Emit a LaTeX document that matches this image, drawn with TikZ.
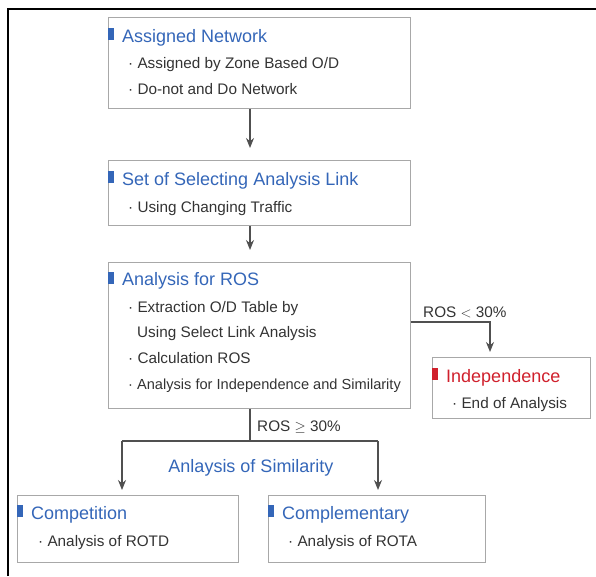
\documentclass[tikz,border=0pt]{standalone}
\usepackage{fontspec}
\setmainfont{Liberation Sans}
\usetikzlibrary{arrows.meta}
\definecolor{tblue}{HTML}{3466B8}
\definecolor{tred}{HTML}{D0202C}
\definecolor{tgray}{HTML}{333333}
\definecolor{bgray}{HTML}{A8A8A8}
\definecolor{agray}{HTML}{505050}
\tikzset{
  box/.style={draw=bgray, line width=0.9pt, anchor=north west, inner sep=0pt},
  ttl/.style={anchor=base west, inner sep=0pt, font=\fontsize{18}{18}\selectfont, text=tblue},
  bul/.style={anchor=base west, inner sep=0pt, font=\fontsize{15.3}{15.3}\selectfont, text=tgray},
  lbl/.style={anchor=base west, inner sep=0pt, font=\fontsize{15.3}{15.3}\selectfont, text=tgray},
  sqm/.style={fill=tblue, draw=none, anchor=north west, minimum width=6pt, minimum height=12pt, inner sep=0pt},
  conn/.style={draw=agray, line width=1.3pt},
  arr/.style={conn, -{Stealth[length=10pt, width=8pt]}},
}
\begin{document}
\begin{tikzpicture}[x=1pt,y=-1pt]
\useasboundingbox (0,0) rectangle (596,576);
% frame
\draw[black, line width=1.4pt] (8,576) -- (8,9) -- (596,9);

% Box 1
\node[box, minimum width=302pt, minimum height=91pt] (b1) at (108,17) {};
\node[sqm] (m1) at (108,28) {};
\node[ttl] (t1) at (122,42) {Assigned Network};
\node[bul] (t1a) at (128,68) {· Assigned by Zone Based O/D};
\node[bul] (t1b) at (128,94) {· Do-not and Do Network};

% Box 2
\node[box, minimum width=302pt, minimum height=65pt] (b2) at (108,160) {};
\node[sqm] (m2) at (108,171) {};
\node[ttl] (t2) at (122,185) {Set of Selecting Analysis Link};
\node[bul] (t2a) at (128,212) {· Using Changing Traffic};

% Box 3
\node[box, minimum width=302pt, minimum height=146pt] (b3) at (108,262) {};
\node[sqm] (m3) at (108,272) {};
\node[ttl] (t3) at (122,285) {Analysis for ROS};
\node[bul] (t3a) at (128,312) {· Extraction O/D Table by};
\node[bul] (t3b) at (137,337) {Using Select Link Analysis};
\node[bul] (t3c) at (128,363) {· Calculation ROS};
\node[bul, font=\fontsize{14.6}{14.6}\selectfont] (t3d) at (128,389) {· Analysis for Independence and Similarity};

% Box 4
\node[box, minimum width=158pt, minimum height=61pt] (b4) at (432,357) {};
\node[sqm, fill=tred] (m4) at (432,368) {};
\node[ttl, text=tred] (t4) at (446,382) {Independence};
\node[bul] (t4a) at (452,408) {· End of Analysis};

% Box 5
\node[box, minimum width=221pt, minimum height=67pt] (b5) at (17,495) {};
\node[sqm] (m5) at (17,505) {};
\node[ttl] (t5) at (31,519) {Competition};
\node[bul] (t5a) at (38,546) {· Analysis of ROTD};

% Box 6
\node[box, minimum width=217pt, minimum height=67pt] (b6) at (268,495) {};
\node[sqm] (m6) at (268,505) {};
\node[ttl] (t6) at (282,519) {Complementary};
\node[bul] (t6a) at (288,546) {· Analysis of ROTA};

% labels
\node[lbl] (l1) at (423,317) {ROS $<$ 30\%};
\node[lbl] (l2) at (257,431) {ROS $\geq$ 30\%};
\node[ttl, anchor=base] (l3) at (251,472) {Anlaysis of Similarity};

% connectors
\coordinate (sp) at (250,0);
\coordinate (j1) at (490,322);
\coordinate (j2) at (250,441);
\coordinate (jl) at (122,441);
\coordinate (jr) at (378,441);
\draw[arr, shorten >=12pt] (sp |- b1.south) -- (sp |- b2.north);
\draw[arr, shorten >=12pt] (sp |- b2.south) -- (sp |- b3.north);
\draw[arr, shorten >=5pt] (b3.east |- j1) -- (j1) -- (j1 |- b4.north);
\draw[conn] (j2 |- b3.south) -- (j2);
\draw[conn] (jl) -- (jr);
\draw[arr, shorten >=5pt] (jl) -- (jl |- b5.north);
\draw[arr, shorten >=5pt] (jr) -- (jr |- b6.north);
\end{tikzpicture}
\end{document}
